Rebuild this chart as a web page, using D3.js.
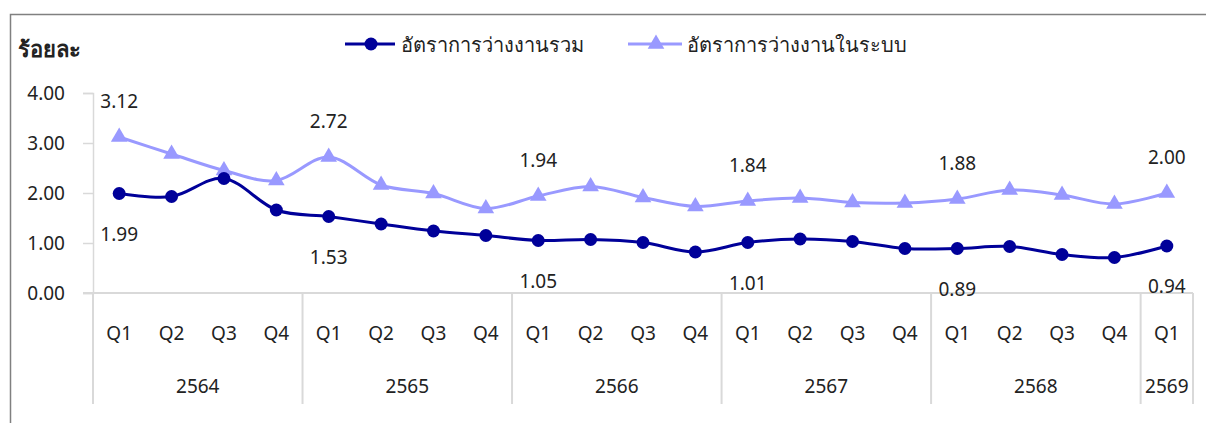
<!DOCTYPE html>
<html>
<head>
<meta charset="utf-8">
<script src="https://cdn.jsdelivr.net/npm/d3@7"></script>
<style>
body { margin: 0; background: #fff; }
svg text { font-family: "Noto Sans", Tahoma, sans-serif; fill: #222; }
</style>
</head>
<body>
<div id="viz"></div>
<script>
// data
var years = ["2564", "2565", "2566", "2567", "2568", "2569"];
var quarters = ["Q1", "Q2", "Q3", "Q4"];
var yearCounts = [4, 4, 4, 4, 4, 1];
var totalRate = [1.99, 1.93, 2.29, 1.66, 1.53, 1.38, 1.24, 1.15, 1.05, 1.07, 1.01, 0.82,
                 1.01, 1.08, 1.03, 0.89, 0.89, 0.93, 0.77, 0.71, 0.94];
var systemRate = [3.12, 2.78, 2.45, 2.25, 2.72, 2.16, 1.99, 1.69, 1.94, 2.13, 1.91, 1.73,
                  1.84, 1.90, 1.81, 1.80, 1.88, 2.06, 1.96, 1.78, 2.00];
var labelIdx = [0, 4, 8, 12, 16, 20];
var yTicks = [0, 1, 2, 3, 4];
var seriesNames = ["อัตราการว่างงานรวม", "อัตราการว่างงานในระบบ"];

var canw = 1206, canh = 423;
var dark = "#000099", light = "#9999ff", grid = "#d9d9d9";

// build category keys
var cats = [];
years.forEach(function(y, i){
    for (var q = 0; q < yearCounts[i]; q++) cats.push(y + "-" + quarters[q]);
});

var svg = d3.select("#viz").append("svg")
    .attr("width", canw)
    .attr("height", canh);

// outer frame
svg.append("rect")
    .attr("x", 10.5).attr("y", 14.5)
    .attr("width", 1210).attr("height", 430)
    .style("fill", "none").style("stroke", "#808080").style("stroke-width", 1.5);

var x = d3.scaleBand().domain(cats).range([93, 1193]);
var y = d3.scaleLinear().domain([0, 4]).range([293, 93]);
var cx = function(i){ return x(cats[i]) + x.bandwidth() / 2; };

// y axis
var yAxis = svg.append("g")
    .attr("transform", "translate(93,0)")
    .call(d3.axisLeft(y).tickValues(yTicks).tickFormat(d3.format(".2f")).tickSize(10).tickPadding(18));
yAxis.select(".domain").style("stroke", grid).style("stroke-width", 1.5);
yAxis.selectAll(".tick line").style("stroke", grid).style("stroke-width", 1.5);
yAxis.selectAll(".tick text").style("font-size", "19px").style("fill", "#222")
    .style("font-family", "\"Noto Sans\", Tahoma, sans-serif");

// x axis line
svg.append("line")
    .attr("x1", 83).attr("x2", 1193).attr("y1", 293).attr("y2", 293)
    .style("stroke", grid).style("stroke-width", 2);

// group separators
var bounds = [0];
yearCounts.forEach(function(c){ bounds.push(bounds[bounds.length - 1] + c); });
bounds.forEach(function(b){
    var bx = b < cats.length ? x(cats[b]) : x(cats[cats.length - 1]) + x.bandwidth();
    svg.append("line")
        .attr("x1", bx).attr("x2", bx).attr("y1", 293).attr("y2", 404)
        .style("stroke", grid).style("stroke-width", 2);
});

// quarter labels
svg.selectAll(".qlab").data(cats).enter().append("text")
    .attr("x", function(d, i){ return cx(i); })
    .attr("y", 340)
    .attr("text-anchor", "middle")
    .style("font-size", "19px")
    .text(function(d){ return d.split("-")[1]; });

// year labels
years.forEach(function(yr, i){
    var mid = (bounds[i] + bounds[i + 1]) / 2;
    var px = 93 + mid * x.step();
    svg.append("text")
        .attr("x", px).attr("y", 393)
        .attr("text-anchor", "middle")
        .style("font-size", "19px")
        .text(yr);
});

// y title
svg.append("text")
    .attr("x", 18).attr("y", 57)
    .style("font-size", "22px").style("font-weight", "bold")
    .text("ร้อยละ");

var line = d3.line()
    .x(function(d, i){ return cx(i); })
    .y(function(d){ return y(d); })
    .curve(d3.curveCatmullRom.alpha(0));

svg.append("path").datum(systemRate)
    .attr("d", line)
    .style("fill", "none").style("stroke", light).style("stroke-width", 3);
svg.append("path").datum(totalRate)
    .attr("d", line)
    .style("fill", "none").style("stroke", dark).style("stroke-width", 3);

var tri = d3.symbol().type(d3.symbolTriangle).size(120);
svg.selectAll(".tri").data(systemRate).enter().append("path")
    .attr("d", tri)
    .attr("transform", function(d, i){ return "translate(" + cx(i) + "," + y(d) + ")"; })
    .style("fill", light);

svg.selectAll(".dot").data(totalRate).enter().append("circle")
    .attr("cx", function(d, i){ return cx(i); })
    .attr("cy", function(d){ return y(d); })
    .attr("r", 6.5)
    .style("fill", dark);

// data labels
labelIdx.forEach(function(i){
    svg.append("text")
        .attr("x", cx(i)).attr("y", y(systemRate[i]) - 36)
        .attr("text-anchor", "middle").attr("dominant-baseline", "central")
        .style("font-size", "19px")
        .text(systemRate[i].toFixed(2));
    svg.append("text")
        .attr("x", cx(i)).attr("y", y(totalRate[i]) + 40)
        .attr("text-anchor", "middle").attr("dominant-baseline", "central")
        .style("font-size", "19px")
        .text(totalRate[i].toFixed(2));
});

// legend
var leg = svg.append("g");
leg.append("line").attr("x1", 345).attr("x2", 395).attr("y1", 44).attr("y2", 44)
    .style("stroke", dark).style("stroke-width", 3);
leg.append("circle").attr("cx", 371).attr("cy", 44).attr("r", 6.5).style("fill", dark);
leg.append("text").attr("x", 401).attr("y", 44).attr("dominant-baseline", "central")
    .style("font-size", "20px").text(seriesNames[0]);
leg.append("line").attr("x1", 628).attr("x2", 682).attr("y1", 44).attr("y2", 44)
    .style("stroke", light).style("stroke-width", 3);
leg.append("path").attr("d", tri).attr("transform", "translate(656,44)").style("fill", light);
leg.append("text").attr("x", 687).attr("y", 44).attr("dominant-baseline", "central")
    .style("font-size", "20px").text(seriesNames[1]);
</script>
</body>
</html>
